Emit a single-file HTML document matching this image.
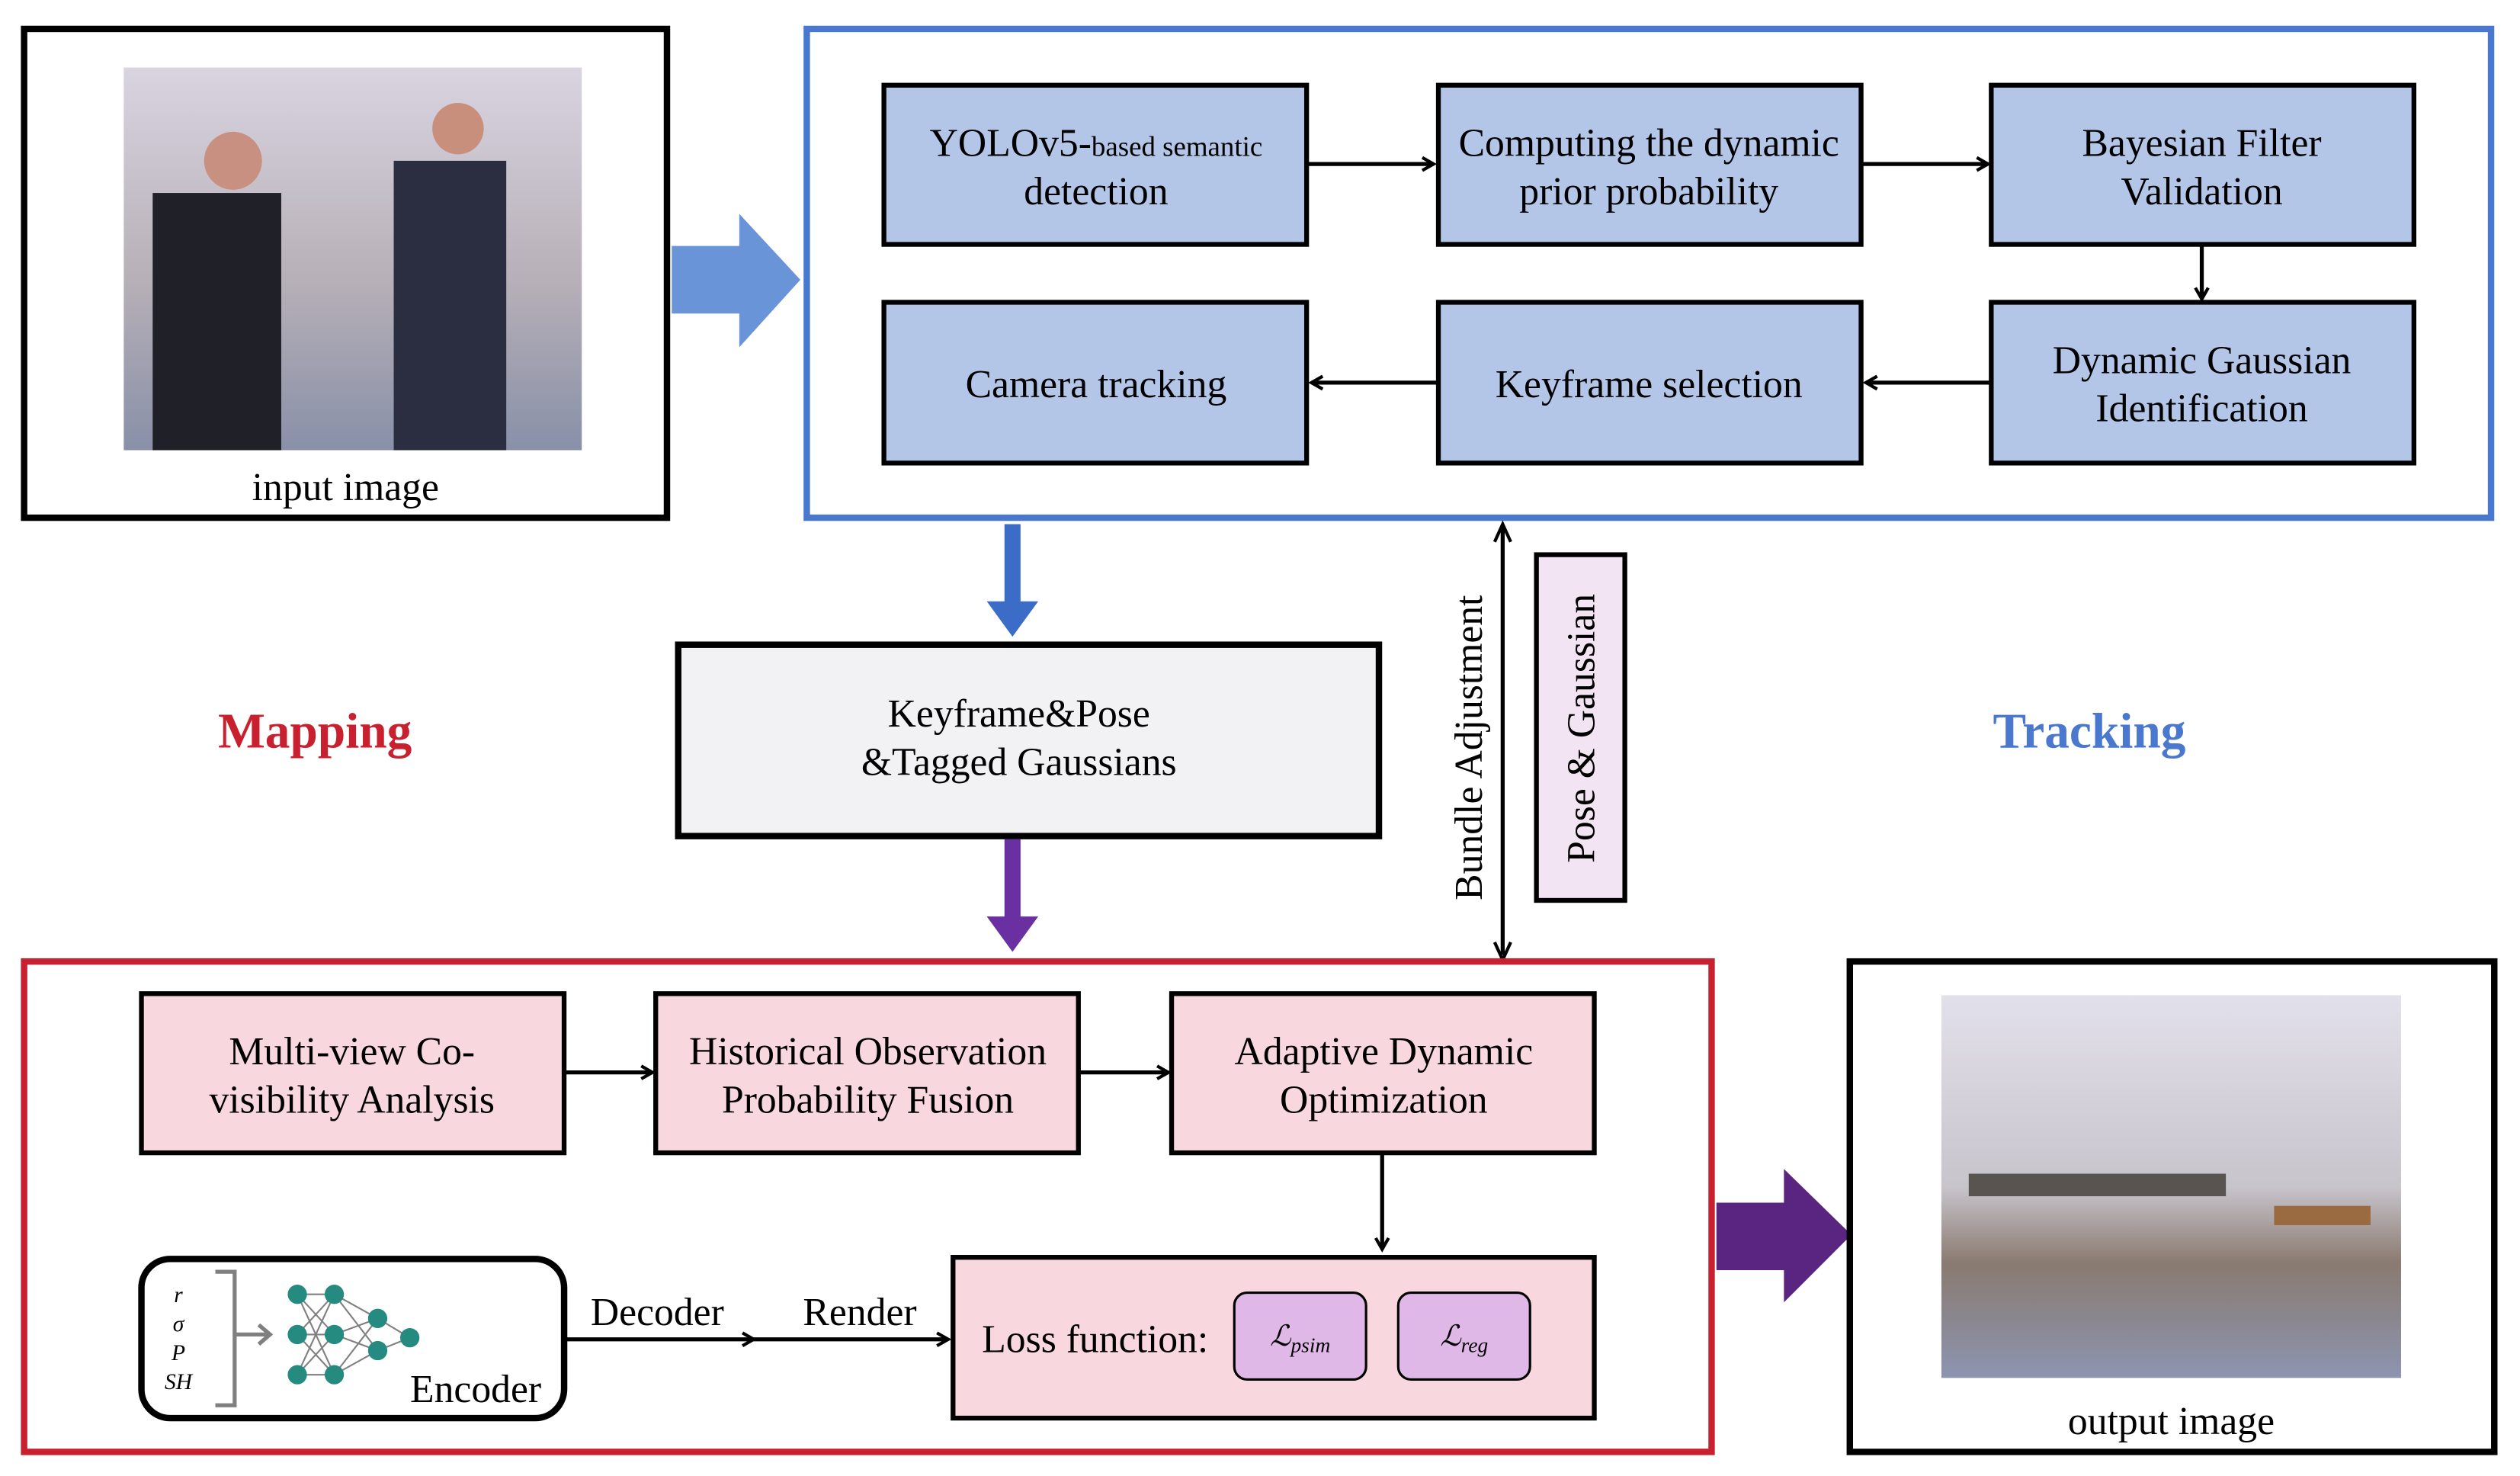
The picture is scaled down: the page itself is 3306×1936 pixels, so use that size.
<!DOCTYPE html>
<html><head><meta charset="utf-8"><style>
html,body{margin:0;padding:0;background:#fff;}
svg{display:block;}
text{font-family:"Liberation Serif",serif;}
</style></head><body>
<svg width="3306" height="1936" viewBox="0 0 1568 918" preserveAspectRatio="none" xmlns="http://www.w3.org/2000/svg">
<defs>
<marker id="ah" markerWidth="10" markerHeight="10" refX="8" refY="5" orient="auto" markerUnits="userSpaceOnUse"><path d="M1,1 L8,5 L1,9" fill="none" stroke="#000" stroke-width="2"/></marker>
<linearGradient id="p1" x1="0" y1="0" x2="0" y2="1"><stop offset="0" stop-color="#d8d4e0"/><stop offset="0.55" stop-color="#b8b0b8"/><stop offset="1" stop-color="#8890a8"/></linearGradient>
<linearGradient id="p2" x1="0" y1="0" x2="0" y2="1"><stop offset="0" stop-color="#e2e0ea"/><stop offset="0.5" stop-color="#c8c4cc"/><stop offset="0.7" stop-color="#8a7a70"/><stop offset="1" stop-color="#8c94b0"/></linearGradient>
</defs>
<rect x="15" y="18" width="400" height="304" fill="#fff" stroke="#000" stroke-width="4"/>
<rect x="77" y="42" width="285" height="238" fill="url(#p1)"/>
<rect x="95" y="120" width="80" height="160" fill="#202028"/>
<circle cx="145" cy="100" r="18" fill="#c89080"/>
<rect x="245" y="100" width="70" height="180" fill="#2a2e40"/>
<circle cx="285" cy="80" r="16" fill="#c8907c"/>
<text x="215" y="311" font-size="24.5" text-anchor="middle">input image</text>
<path d="M418,153 H460 V133 L498,174 L460,216 V195 H418 Z" fill="#6a94d8"/>
<rect x="502" y="18" width="1048" height="304" fill="#fff" stroke="#4a78cf" stroke-width="4"/>
<g fill="#b4c6e8" stroke="#000" stroke-width="3">
<rect x="550" y="53" width="263" height="99"/><rect x="895" y="53" width="263" height="99"/><rect x="1239" y="53" width="263" height="99"/>
<rect x="550" y="188" width="263" height="100"/><rect x="895" y="188" width="263" height="100"/><rect x="1239" y="188" width="263" height="100"/>
</g>
<g font-size="24.5" text-anchor="middle">
<text x="682" y="97">YOLOv5-<tspan font-size="17.5">based semantic</tspan></text><text x="682" y="127">detection</text>
<text x="1026" y="97">Computing the dynamic</text><text x="1026" y="127">prior probability</text>
<text x="1370" y="97">Bayesian Filter</text><text x="1370" y="127">Validation</text>
<text x="682" y="247">Camera tracking</text>
<text x="1026" y="247">Keyframe selection</text>
<text x="1370" y="232">Dynamic Gaussian</text><text x="1370" y="262">Identification</text>
</g>
<g stroke="#000" stroke-width="2.5" marker-end="url(#ah)" fill="none">
<line x1="813" y1="102" x2="892" y2="102"/><line x1="1158" y1="102" x2="1237" y2="102"/>
<line x1="1370" y1="152" x2="1370" y2="186"/>
<line x1="1239" y1="238" x2="1161" y2="238"/><line x1="895" y1="238" x2="816" y2="238"/>
<line x1="860" y1="717" x2="860" y2="777"/>
<line x1="351" y1="667" x2="406" y2="667"/><line x1="671" y1="667" x2="727" y2="667"/>
<line x1="351" y1="833" x2="469" y2="833"/><line x1="469" y1="833" x2="590" y2="833"/>
</g>
<rect x="625" y="326" width="10" height="50" fill="#3a6cc8"/><path d="M614,374 H646 L630,396 Z" fill="#3a6cc8"/>
<rect x="422" y="401" width="436" height="119" fill="#f2f2f4" stroke="#000" stroke-width="4"/>
<text x="634" y="452" font-size="24.5" text-anchor="middle">Keyframe&amp;Pose</text>
<text x="634" y="482" font-size="24.5" text-anchor="middle">&amp;Tagged Gaussians</text>
<rect x="625" y="522" width="10" height="50" fill="#6a2fa0"/><path d="M614,570 H646 L630,592 Z" fill="#6a2fa0"/>
<text x="196" y="465" font-size="31" font-weight="bold" fill="#c8202f" text-anchor="middle">Mapping</text>
<text x="1300" y="465" font-size="31" font-weight="bold" fill="#4a78cf" text-anchor="middle">Tracking</text>
<line x1="935" y1="328" x2="935" y2="594" stroke="#000" stroke-width="2.5"/>
<path d="M930,337 L935,326 L940,337" fill="none" stroke="#000" stroke-width="2"/>
<path d="M930,586 L935,597 L940,586" fill="none" stroke="#000" stroke-width="2"/>
<text transform="translate(922,465) rotate(-90)" font-size="24.5" text-anchor="middle">Bundle Adjustment</text>
<rect x="956" y="345" width="55" height="215" fill="#f3e4f3" stroke="#000" stroke-width="3"/>
<text transform="translate(992,453) rotate(-90)" font-size="24.5" text-anchor="middle">Pose &amp; Gaussian</text>
<rect x="15" y="598" width="1050" height="305" fill="none" stroke="#c8202f" stroke-width="4"/>
<g fill="#f8d7de" stroke="#000" stroke-width="3">
<rect x="88" y="618" width="263" height="99"/><rect x="408" y="618" width="263" height="99"/><rect x="729" y="618" width="263" height="99"/>
<rect x="593" y="782" width="399" height="100"/>
</g>
<g font-size="24.5" text-anchor="middle">
<text x="219" y="662">Multi-view Co-</text><text x="219" y="692">visibility Analysis</text>
<text x="540" y="662">Historical Observation</text><text x="540" y="692">Probability Fusion</text>
<text x="861" y="662">Adaptive Dynamic</text><text x="861" y="692">Optimization</text>
<text x="409" y="824">Decoder</text><text x="535" y="824">Render</text>
</g>
<text x="611" y="841" font-size="24.5">Loss function:</text>
<rect x="768" y="804" width="82" height="54" rx="8" fill="#e0b8e8" stroke="#000" stroke-width="1.5"/>
<rect x="870" y="804" width="82" height="54" rx="8" fill="#e0b8e8" stroke="#000" stroke-width="1.5"/>
<text x="809" y="837" font-size="18" font-style="italic" text-anchor="middle">ℒ<tspan font-size="13" dy="4">psim</tspan></text>
<text x="911" y="837" font-size="18" font-style="italic" text-anchor="middle">ℒ<tspan font-size="13" dy="4">reg</tspan></text>
<rect x="88" y="783" width="263" height="99" rx="18" fill="#fff" stroke="#000" stroke-width="4"/>
<g font-size="14" font-style="italic" text-anchor="middle"><text x="111" y="810">r</text><text x="111" y="828">σ</text><text x="111" y="846">P</text><text x="111" y="864">SH</text></g>
<path d="M134,791 H146 V874 H134" fill="none" stroke="#808080" stroke-width="2.5"/>
<path d="M146,830 H168 M161,824 L168,830 L161,836" fill="none" stroke="#808080" stroke-width="2.5"/>
<g stroke="#808080" stroke-width="1">
<path d="M185,805 L208,805 M185,805 L208,830 M185,805 L208,855 M185,830 L208,805 M185,830 L208,830 M185,830 L208,855 M185,855 L208,805 M185,855 L208,830 M185,855 L208,855 M208,805 L235,820 M208,805 L235,840 M208,830 L235,820 M208,830 L235,840 M208,855 L235,820 M208,855 L235,840 M235,820 L255,832 M235,840 L255,832"/>
</g>
<g fill="#258a80">
<circle cx="185" cy="805" r="6"/><circle cx="185" cy="830" r="6"/><circle cx="185" cy="855" r="6"/>
<circle cx="208" cy="805" r="6"/><circle cx="208" cy="830" r="6"/><circle cx="208" cy="855" r="6"/>
<circle cx="235" cy="820" r="6"/><circle cx="235" cy="840" r="6"/><circle cx="255" cy="832" r="6"/>
</g>
<text x="296" y="872" font-size="24.5" text-anchor="middle">Encoder</text>
<path d="M1068,748 H1110 V727 L1152,768 L1110,810 V790 H1068 Z" fill="#5a2580"/>
<rect x="1151" y="598" width="401" height="305" fill="#fff" stroke="#000" stroke-width="4"/>
<rect x="1208" y="619" width="286" height="238" fill="url(#p2)"/>
<rect x="1225" y="730" width="160" height="14" fill="#5a5450"/>
<rect x="1415" y="750" width="60" height="12" fill="#9a6a40"/>
<text x="1351" y="892" font-size="24.5" text-anchor="middle">output image</text>
</svg>
</body></html>
